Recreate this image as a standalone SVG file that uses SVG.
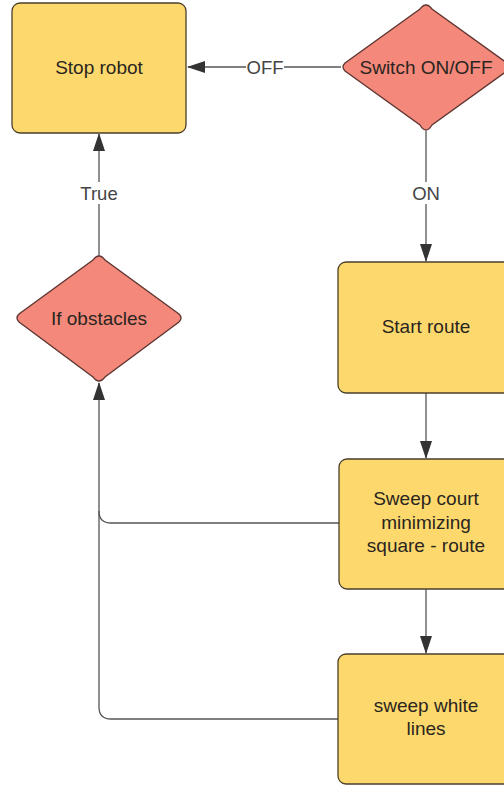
<svg xmlns="http://www.w3.org/2000/svg" width="504" height="787" viewBox="0 0 504 787">
<defs>
<style>
.box{fill:#fdd96d;stroke:#4a3f2a;stroke-width:1.3}
.dia{fill:#f4897b;stroke:#5e3530;stroke-width:1.3}
.t{font-family:"Liberation Sans",Arial,sans-serif;font-size:19px;fill:#2a2520;text-anchor:middle;dominant-baseline:central}
.lbl{font-family:"Liberation Sans",Arial,sans-serif;font-size:18.5px;fill:#444;text-anchor:middle;dominant-baseline:central}
.c{fill:none;stroke:#555;stroke-width:1.3}
</style>
<marker id="ah" markerWidth="18" markerHeight="12" refX="17" refY="6" orient="auto" markerUnits="userSpaceOnUse">
<path d="M0,0 L18,6 L0,12 Z" fill="#333"/>
</marker>
</defs>
<rect width="504" height="787" fill="#fff"/>
<g id="connectors">
<path class="c" d="M341,67 H188" marker-end="url(#ah)"/>
<rect x="246" y="56" width="38" height="22" fill="#fff"/>
<text class="lbl" x="265" y="67">OFF</text>
<path class="c" d="M426,131 V261" marker-end="url(#ah)"/>
<rect x="408" y="182" width="36" height="22" fill="#fff"/>
<text class="lbl" x="426" y="193">ON</text>
<path class="c" d="M99,256 V134" marker-end="url(#ah)"/>
<rect x="76" y="182" width="46" height="22" fill="#fff"/>
<text class="lbl" x="99" y="193">True</text>
<path class="c" d="M426,393 V458" marker-end="url(#ah)"/>
<path class="c" d="M426,589 V653" marker-end="url(#ah)"/>
<path class="c" d="M339,523 H111 Q99,523 99,511 V383" marker-end="url(#ah)"/>
<path class="c" d="M338,719 H111 Q99,719 99,707 V511"/>
</g>
<g id="stop">
<rect class="box" x="12" y="3" width="174" height="130" rx="8"/>
<text class="t" x="99" y="67">Stop robot</text>
</g>
<g id="switch">
<path class="dia" d="M426,5 Q429,5 432,9 L507,63 Q511,67 507,71 L432,125 Q429,130 426,130 Q423,130 420,125 L345,71 Q341,67 345,63 L420,9 Q423,5 426,5 Z"/>
<text class="t" x="426" y="67">Switch ON/OFF</text>
</g>
<g id="obstacles">
<path class="dia" d="M99,256 Q102,256 105,260 L179,314 Q183,318 179,322 L105,377 Q102,381 99,381 Q96,381 93,377 L19,322 Q15,318 19,314 L93,260 Q96,256 99,256 Z"/>
<text class="t" x="99" y="318">If obstacles</text>
</g>
<g id="start">
<rect class="box" x="338" y="262" width="180" height="131" rx="8"/>
<text class="t" x="426" y="326">Start route</text>
</g>
<g id="sweepcourt">
<rect class="box" x="339" y="459" width="180" height="130" rx="8"/>
<text class="t" x="426" y="498">Sweep court</text>
<text class="t" x="426" y="522">minimizing</text>
<text class="t" x="426" y="545">square - route</text>
</g>
<g id="sweepwhite">
<rect class="box" x="338" y="654" width="180" height="130" rx="8"/>
<text class="t" x="426" y="705">sweep white</text>
<text class="t" x="426" y="728">lines</text>
</g>
</svg>
